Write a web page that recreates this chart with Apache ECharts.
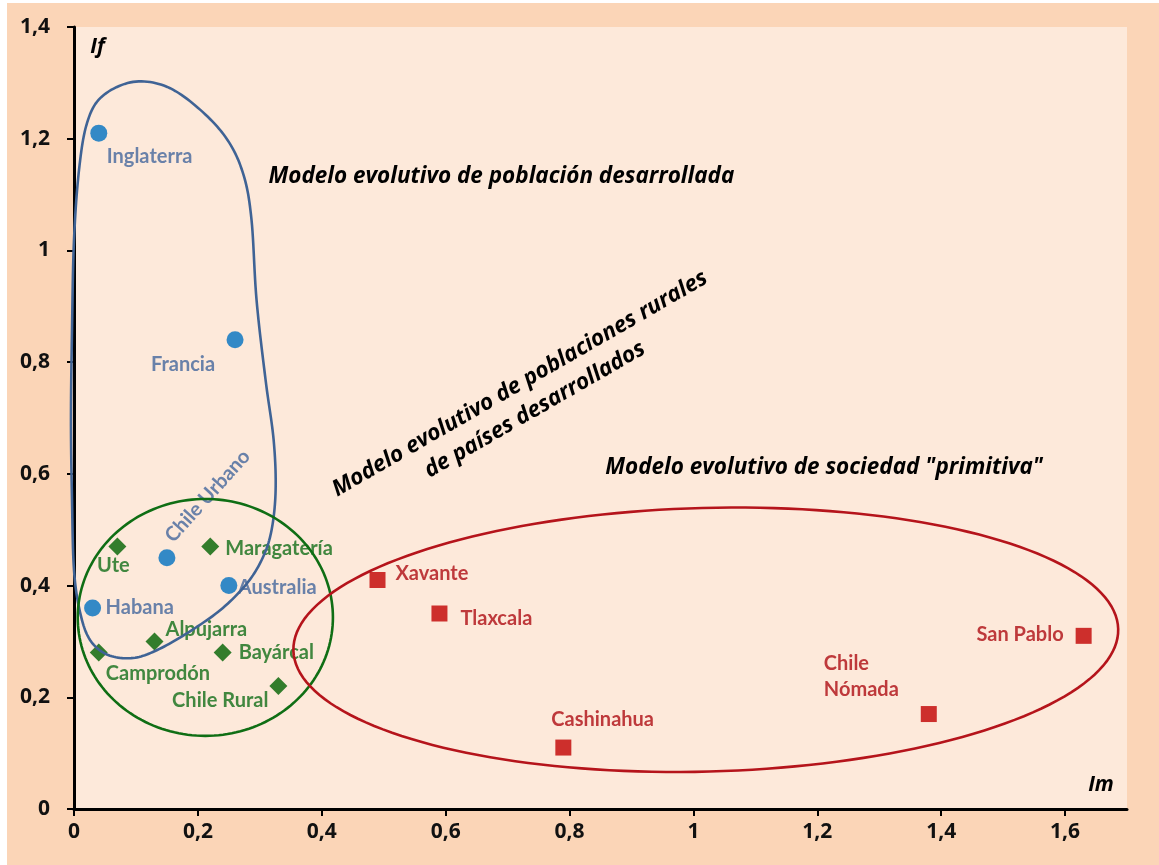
<!DOCTYPE html>
<html><head><meta charset="utf-8">
<script src="https://cdn.jsdelivr.net/npm/echarts@6/dist/echarts.min.js"></script>
<style>html,body{margin:0;padding:0;background:#fff}#c{width:1159px;height:865px}</style>
</head><body><div id="c"></div>
<script>
// ---- data ----
const xTickValues = [0, 0.2, 0.4, 0.6, 0.8, 1, 1.2, 1.4, 1.6];
const xTickLabels = ['0', '0,2', '0,4', '0,6', '0,8', '1', '1,2', '1,4', '1,6'];
const yTickValues = [0, 0.2, 0.4, 0.6, 0.8, 1, 1.2, 1.4];
const yTickLabels = ['0', '0,2', '0,4', '0,6', '0,8', '1', '1,2', '1,4'];

const urbanNames = ['Inglaterra', 'Francia', 'Chile Urbano', 'Australia', 'Habana'];
const urbanIm = [0.04, 0.26, 0.15, 0.25, 0.03];
const urbanIf = [1.21, 0.84, 0.45, 0.40, 0.36];

const ruralNames = ['Ute', 'Maragatería', 'Alpujarra', 'Camprodón', 'Bayárcal', 'Chile Rural'];
const ruralIm = [0.07, 0.22, 0.13, 0.04, 0.24, 0.33];
const ruralIf = [0.47, 0.47, 0.30, 0.28, 0.28, 0.22];

const primNames = ['Xavante', 'Tlaxcala', 'Cashinahua', 'Chile\nNómada', 'San Pablo'];
const primIm = [0.49, 0.59, 0.79, 1.38, 1.63];
const primIf = [0.41, 0.35, 0.11, 0.17, 0.31];

const noteTexts = [
  'Modelo evolutivo de población desarrollada',
  'Modelo evolutivo de poblaciones rurales\nde países desarrollados',
  'Modelo evolutivo de sociedad "primitiva"',
  'If',
  'Im'
];

// ---- annotation geometry (data coordinates) ----
const notePos = [[0.690, 1.133], [0.732, 0.738], [1.211, 0.612], [0.038, 1.364], [1.658, 0.043]];
const noteRot = [0, 30, 0, 0, 0];
const blueOutline = [
  [0.0955, 1.3017], [0.1506, 1.2927], [0.2040, 1.2516], [0.2478, 1.1978], [0.2737, 1.1352],
  [0.2866, 1.0546], [0.2947, 0.9114], [0.3093, 0.7681], [0.3223, 0.6607], [0.3255, 0.5712],
  [0.3190, 0.4996], [0.3045, 0.4494], [0.2785, 0.4029], [0.2364, 0.3563], [0.1830, 0.3151],
  [0.1344, 0.2847], [0.0955, 0.2704], [0.0551, 0.2757], [0.0259, 0.3026], [0.0097, 0.3527],
  [0.0000, 0.4279], [-0.0032, 0.5533], [-0.0049, 0.6965], [-0.0032, 0.8577], [0.0000, 1.0188],
  [0.0081, 1.1441], [0.0211, 1.2283], [0.0453, 1.2757]
];
const greenEllipse = { cx: 0.212, cy: 0.343, rx: 0.206, ry: 0.212, rot: 0 };
const redEllipse = { cx: 1.020, cy: 0.303, rx: 0.666, ry: 0.236, rot: 1.5 };

// label placement (pixel offsets from the marker centre; rotated labels use the rotated frame)
const labelPlace = {
  'Inglaterra': { align: 'left', offset: [8, 23] },
  'Francia': { align: 'right', offset: [-20, 25] },
  'Chile Urbano': { align: 'center', offset: [73, -11], rotate: 48 },
  'Australia': { align: 'left', offset: [9, 2] },
  'Habana': { align: 'left', offset: [13, 0] },
  'Ute': { align: 'center', offset: [-4, 19] },
  'Maragatería': { align: 'left', offset: [15, 2] },
  'Alpujarra': { align: 'left', offset: [11, -12] },
  'Camprodón': { align: 'left', offset: [7, 21] },
  'Bayárcal': { align: 'left', offset: [16, 0] },
  'Chile Rural': { align: 'right', offset: [-10, 14] },
  'Xavante': { align: 'left', offset: [18, -6] },
  'Tlaxcala': { align: 'left', offset: [21, 5] },
  'Cashinahua': { align: 'left', offset: [-12, -28] },
  'Chile\nNómada': { align: 'left', offset: [-105, -37] },
  'San Pablo': { align: 'right', offset: [-20, -1] }
};

const FONT = 'Lato, "Open Sans", sans-serif';
const FONT2 = '"Open Sans", Lato, sans-serif';

function buildData(names, xs, ys, color) {
  return names.map((n, i) => {
    const p = labelPlace[n];
    return {
      name: n,
      value: [xs[i], ys[i]],
      label: {
        show: true, position: 'inside', formatter: '{b}',
        align: p.align, verticalAlign: 'middle', offset: p.offset,
        rotate: p.rotate || 0, color: color,
        fontFamily: FONT, fontWeight: 'bold', fontSize: 20, lineHeight: 26
      }
    };
  });
}

// closed Catmull-Rom spline through pixel points
function closedSpline(pts, steps) {
  const out = [];
  const n = pts.length;
  for (let i = 0; i < n; i++) {
    const p0 = pts[(i - 1 + n) % n], p1 = pts[i], p2 = pts[(i + 1) % n], p3 = pts[(i + 2) % n];
    for (let s = 0; s < steps; s++) {
      const t = s / steps, t2 = t * t, t3 = t2 * t;
      out.push([0, 1].map(d => 0.5 * ((2 * p1[d]) + (-p0[d] + p2[d]) * t +
        (2 * p0[d] - 5 * p1[d] + 4 * p2[d] - p3[d]) * t2 +
        (-p0[d] + 3 * p1[d] - 3 * p2[d] + p3[d]) * t3)));
    }
  }
  return out;
}

const chart = echarts.init(document.getElementById('c'), null, { renderer: 'canvas' });

function fmt(list, vals) {
  return function (v) {
    for (let i = 0; i < vals.length; i++) if (Math.abs(vals[i] - v) < 1e-6) return list[i];
    return '';
  };
}

const shapes = [
  { kind: 'poly', pts: blueOutline, color: '#3F6395' },
  { kind: 'ell', e: greenEllipse, color: '#0F6E14' },
  { kind: 'ell', e: redEllipse, color: '#B5141B' }
];

chart.setOption({
  backgroundColor: '#ffffff',
  animation: false,
  graphic: [
    { type: 'rect', shape: { x: 7, y: 3, width: 1152, height: 862 }, style: { fill: '#FBD5B7' }, z: -10, silent: true }
  ],
  grid: { left: 74, right: 32, top: 27, bottom: 56, show: true, backgroundColor: '#FDE9DA', borderWidth: 0 },
  xAxis: {
    type: 'value', min: 0, max: 1.7, interval: 0.2,
    axisLine: { show: true, onZero: false, lineStyle: { color: '#000', width: 3 } },
    axisTick: { show: true, length: 7, lineStyle: { color: '#000', width: 2 }, customValues: xTickValues },
    axisLabel: { margin: 13, color: '#111', fontFamily: FONT2, fontWeight: 'bold', fontSize: 21, formatter: fmt(xTickLabels, xTickValues), customValues: xTickValues },
    splitLine: { show: false }
  },
  yAxis: {
    type: 'value', min: 0, max: 1.4, interval: 0.2,
    axisLine: { show: true, onZero: false, lineStyle: { color: '#000', width: 3 } },
    axisTick: { show: true, length: 7, lineStyle: { color: '#000', width: 2 } },
    axisLabel: { margin: 24, color: '#111', fontFamily: FONT2, fontWeight: 'bold', fontSize: 21, formatter: fmt(yTickLabels, yTickValues) },
    splitLine: { show: false }
  },
  series: [
    {
      type: 'scatter', name: 'urbano', symbol: 'circle', symbolSize: 17,
      itemStyle: { color: '#0070C0' }, emphasis: { disabled: true },
      data: buildData(urbanNames, urbanIm, urbanIf, '#44679C'), z: 3
    },
    {
      type: 'scatter', name: 'rural', symbol: 'diamond', symbolSize: [18, 18],
      itemStyle: { color: '#006100' }, emphasis: { disabled: true },
      data: buildData(ruralNames, ruralIm, ruralIf, '#126E18'), z: 3
    },
    {
      type: 'scatter', name: 'primitiva', symbol: 'rect', symbolSize: 16,
      itemStyle: { color: '#C00000' }, emphasis: { disabled: true },
      data: buildData(primNames, primIm, primIf, '#AE0D13'), z: 3
    },
    {
      type: 'custom', name: 'grupos', silent: true, clip: false, z: 4,
      data: shapes.map(() => [0, 0]),
      renderItem: function (params, api) {
        const s = shapes[params.dataIndex];
        let pts;
        if (s.kind === 'poly') {
          pts = closedSpline(s.pts.map(p => api.coord(p)), 12);
          return { type: 'polygon', shape: { points: pts }, style: { fill: 'none', stroke: s.color, lineWidth: 2.6 } };
        }
        const c = api.coord([s.e.cx, s.e.cy]);
        const o = api.coord([s.e.cx + s.e.rx, s.e.cy + s.e.ry]);
        const rx = Math.abs(o[0] - c[0]), ry = Math.abs(o[1] - c[1]);
        const a = -s.e.rot * Math.PI / 180;
        pts = [];
        for (let k = 0; k < 180; k++) {
          const t = k / 180 * Math.PI * 2;
          const ex = rx * Math.cos(t), ey = ry * Math.sin(t);
          pts.push([c[0] + ex * Math.cos(a) - ey * Math.sin(a), c[1] + ex * Math.sin(a) + ey * Math.cos(a)]);
        }
        return { type: 'polygon', shape: { points: pts }, style: { fill: 'none', stroke: s.color, lineWidth: 2.6 } };
      }
    },
    {
      type: 'custom', name: 'notas', silent: true, clip: false, z: 5,
      data: notePos.map(p => p),
      renderItem: function (params, api) {
        const i = params.dataIndex;
        const c = api.coord(notePos[i]);
        const isAxisName = i >= 3;
        return {
          type: 'text', x: c[0], y: c[1], rotation: noteRot[i] * Math.PI / 180,
          style: {
            text: noteTexts[i], fill: '#000', align: 'center', verticalAlign: 'middle',
            fontFamily: FONT2, fontStyle: 'italic', fontWeight: 'bold',
            fontSize: isAxisName ? 21 : 22.5, lineHeight: 30
          }
        };
      }
    }
  ]
});
</script>
</body></html>
